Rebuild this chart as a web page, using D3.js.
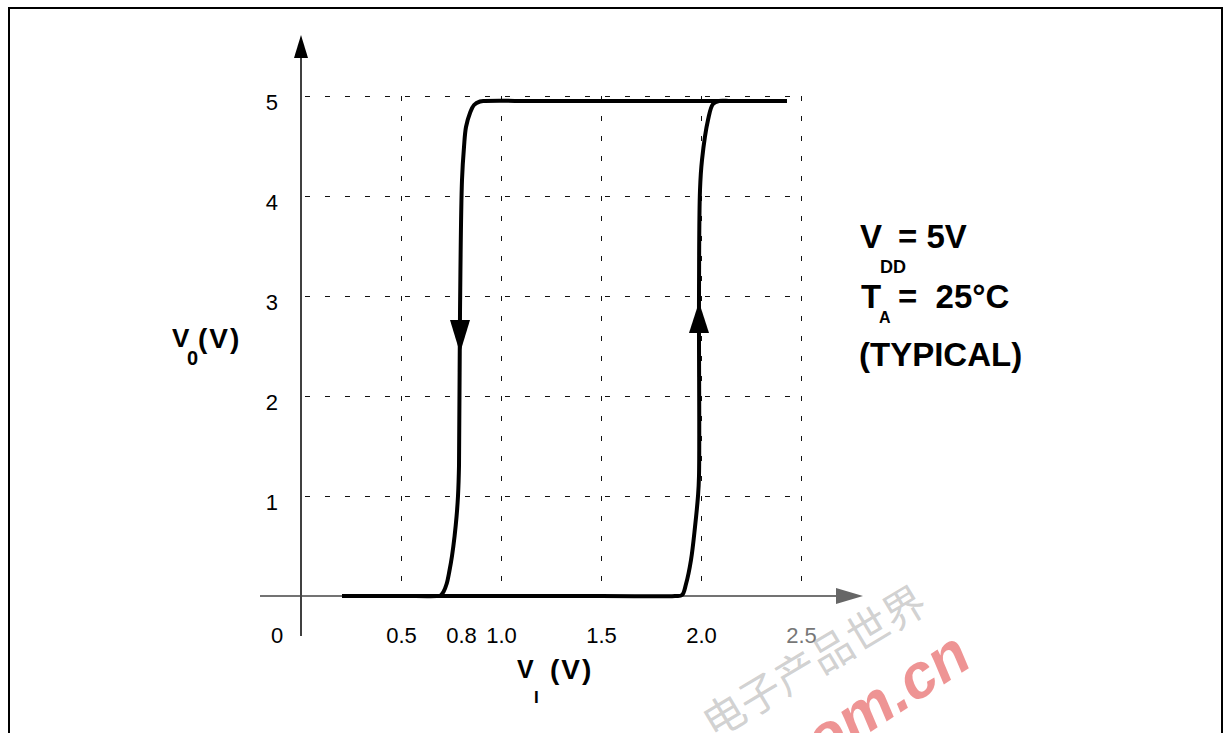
<!DOCTYPE html>
<html>
<head>
<meta charset="utf-8">
<script src="https://cdn.jsdelivr.net/npm/d3@7"></script>
<style>
  body { margin: 0; background: #fff; }
  svg { display: block; font-family: Arial, "Liberation Sans", sans-serif; }
</style>
</head>
<body>
<div id="chart"></div>
<script>
// Data_____________________________________________________
const xTickValues = [0.5, 0.8, 1.0, 1.5, 2.0, 2.5];
const xTickLabels = ['0.5', '0.8', '1.0', '1.5', '2.0', '2.5'];
const xGridValues = [0.5, 1.0, 1.5, 2.0, 2.5];
const yTickValues = [1, 2, 3, 4, 5];

// input going up: output switches high near 2.0 V
const risingVin  = [0.205, 1.5, 1.87, 1.905, 1.925, 1.95, 1.97, 1.985, 1.99, 1.99, 1.995, 2.005, 2.035, 2.06, 2.09, 2.15, 2.43];
const risingVout = [0, 0, 0, 0.01, 0.12, 0.36, 0.69, 1.0, 1.2, 3.0, 4.06, 4.36, 4.76, 4.92, 4.95, 4.95, 4.95];

// input going down: output switches low near 0.8 V
const fallingVin  = [2.43, 1.2, 0.92, 0.895, 0.865, 0.845, 0.825, 0.815, 0.805, 0.795, 0.79, 0.785, 0.778, 0.768, 0.755, 0.742, 0.728, 0.712, 0.698, 0.68, 0.5, 0.205];
const fallingVout = [4.95, 4.95, 4.95, 4.945, 4.91, 4.83, 4.69, 4.49, 4.16, 2.83, 1.3, 1.0, 0.8, 0.6, 0.4, 0.25, 0.12, 0.04, 0.005, 0, 0, 0];

// direction arrows (tip position, volts)
const arrowTips = [
    { vin: 0.795, vout: 2.43, dir: 'down' },
    { vin: 1.99, vout: 2.94, dir: 'up' }
];

// Setup____________________________________________________
const width = 1231;
const height = 733;

const x = d3.scaleLinear().domain([0, 2.5]).range([301, 801]);
const y = d3.scaleLinear().domain([0, 5]).range([596, 96]);

const svg = d3.select('#chart')
    .append('svg')
    .attr('width', width)
    .attr('height', height);

svg.append('rect')
    .attr('width', width)
    .attr('height', height)
    .attr('fill', '#fff');

// frame
svg.append('rect')
    .attr('x', 9)
    .attr('y', 8)
    .attr('width', 1213)
    .attr('height', 760)
    .attr('fill', 'none')
    .attr('stroke', '#000')
    .attr('stroke-width', 2);

// Grid_____________________________________________________
svg.selectAll('.hgrid')
    .data(yTickValues)
    .enter()
    .append('line')
    .attr('class', 'hgrid')
    .attr('x1', x(0))
    .attr('x2', x(2.5) + 3)
    .attr('y1', d => y(d) + 0.5)
    .attr('y2', d => y(d) + 0.5)
    .attr('stroke', '#111')
    .attr('stroke-width', 1)
    .attr('stroke-dasharray', '5,15')
    .attr('stroke-dashoffset', -4);

svg.selectAll('.vgrid')
    .data(xGridValues)
    .enter()
    .append('line')
    .attr('class', 'vgrid')
    .attr('x1', d => x(d) + 0.5)
    .attr('x2', d => x(d) + 0.5)
    .attr('y1', y(5))
    .attr('y2', y(0))
    .attr('stroke', '#111')
    .attr('stroke-width', 1)
    .attr('stroke-dasharray', '5,15');

// Axes_____________________________________________________
// y axis with arrow
svg.append('line')
    .attr('x1', x(0))
    .attr('x2', x(0))
    .attr('y1', y(0) + 40)
    .attr('y2', y(5) - 40)
    .attr('stroke', '#000')
    .attr('stroke-width', 1.5);

svg.append('path')
    .attr('d', `M${x(0)},${y(5) - 61} L${x(0) + 7},${y(5) - 38} L${x(0) - 7},${y(5) - 38} Z`)
    .attr('fill', '#000');

// x axis with arrow
svg.append('line')
    .attr('x1', x(0) - 41)
    .attr('x2', x(2.5) + 36)
    .attr('y1', y(0))
    .attr('y2', y(0))
    .attr('stroke', '#444')
    .attr('stroke-width', 1.5);

svg.append('path')
    .attr('d', `M${x(2.5) + 62},${y(0)} L${x(2.5) + 35},${y(0) - 8} L${x(2.5) + 35},${y(0) + 8} Z`)
    .attr('fill', '#666');

// tick labels
const yAxis = svg.append('g')
    .attr('transform', `translate(${x(0)},0)`)
    .call(d3.axisLeft(y).tickValues(yTickValues).tickFormat(d3.format('d')).tickSize(0).tickPadding(23));
yAxis.select('.domain').remove();
yAxis.selectAll('text')
    .attr('dy', '0.6em')
    .attr('font-size', 22)
    .attr('font-family', 'Arial, "Liberation Sans", sans-serif')
    .attr('fill', '#000');

const xAxis = svg.append('g')
    .attr('transform', `translate(0,${y(0)})`)
    .call(d3.axisBottom(x).tickValues(xTickValues).tickFormat((d, i) => xTickLabels[i]).tickSize(0).tickPadding(31));
xAxis.select('.domain').remove();
xAxis.selectAll('text')
    .attr('font-size', 22)
    .attr('font-family', 'Arial, "Liberation Sans", sans-serif')
    .attr('fill', (d) => d === 2.5 ? '#777' : '#000');

svg.append('text')
    .attr('x', x(0) - 24)
    .attr('y', y(0) + 47)
    .attr('text-anchor', 'middle')
    .attr('font-size', 22)
    .text('0');

// Curves___________________________________________________
const line = d3.line()
    .x(d => x(d[0]))
    .y(d => y(d[1]))
    .curve(d3.curveCatmullRom.alpha(0.5));

const rising = risingVin.map((v, i) => [v, risingVout[i]]);
const falling = fallingVin.map((v, i) => [v, fallingVout[i]]);

[rising, falling].forEach(pts => {
    svg.append('path')
        .datum(pts)
        .attr('d', line)
        .attr('fill', 'none')
        .attr('stroke', '#000')
        .attr('stroke-width', 4)
        .attr('stroke-linejoin', 'round');
});

svg.selectAll('.dir-arrow')
    .data(arrowTips)
    .enter()
    .append('path')
    .attr('class', 'dir-arrow')
    .attr('d', d => {
        const tx = x(d.vin), ty = y(d.vout);
        const h = d.dir === 'down' ? -33 : 31;
        return `M${tx},${ty} L${tx - 10},${ty + h} L${tx + 10},${ty + h} Z`;
    })
    .attr('fill', '#000');

// Titles_________________________________________________
// V0 (V)
const yTitle = svg.append('text')
    .attr('x', 172)
    .attr('y', 347)
    .attr('font-weight', 'bold')
    .attr('font-size', 26);
yTitle.append('tspan').text('V');
yTitle.append('tspan').attr('x', 187).attr('y', 365).attr('font-size', 20).text('0');
yTitle.append('tspan').attr('x', 198).attr('y', 348).attr('font-size', 28).attr('letter-spacing', 2).text('(V)');

// VI (V)
const xTitle = svg.append('text')
    .attr('x', 517)
    .attr('y', 678)
    .attr('font-weight', 'bold')
    .attr('font-size', 25);
xTitle.append('tspan').text('V');
xTitle.append('tspan').attr('x', 534).attr('y', 703).attr('font-size', 17).text('I');
xTitle.append('tspan').attr('x', 550).attr('y', 679).attr('font-size', 28).attr('letter-spacing', 2).text('(V)');

// Conditions block
const note = svg.append('g')
    .attr('font-weight', 'bold')
    .attr('font-size', 33);

const l1 = note.append('text').attr('x', 860).attr('y', 248);
l1.append('tspan').text('V');
l1.append('tspan').attr('x', 880).attr('y', 273).attr('font-size', 18).text('DD');
l1.append('tspan').attr('x', 898).attr('y', 248).text('= 5V');

const l2 = note.append('text').attr('x', 861).attr('y', 308);
l2.append('tspan').text('T');
l2.append('tspan').attr('x', 879).attr('y', 323).attr('font-size', 16).text('A');
l2.append('tspan').attr('x', 898).attr('y', 308).attr('xml:space', 'preserve').text('=  25°C');

note.append('text')
    .attr('x', 859)
    .attr('y', 366)
    .text('(TYPICAL)');

// Watermark______________________________________________
svg.append('text')
    .attr('transform', 'translate(930,610) rotate(-31)')
    .attr('text-anchor', 'end')
    .attr('font-family', '"Noto Sans CJK SC", sans-serif')
    .attr('font-size', 42)
    .attr('fill', '#999')
    .attr('fill-opacity', 0.45)
    .text('电子产品世界');

svg.append('text')
    .attr('transform', 'translate(972,666) rotate(-33) skewX(-10)')
    .attr('text-anchor', 'end')
    .attr('font-family', 'Arial, "Liberation Sans", sans-serif')
    .attr('font-weight', 'bold')
    .attr('font-size', 62)
    .attr('fill', '#e03c3c')
    .attr('fill-opacity', 0.55)
    .text('eeworld.com.cn');
</script>
</body>
</html>
